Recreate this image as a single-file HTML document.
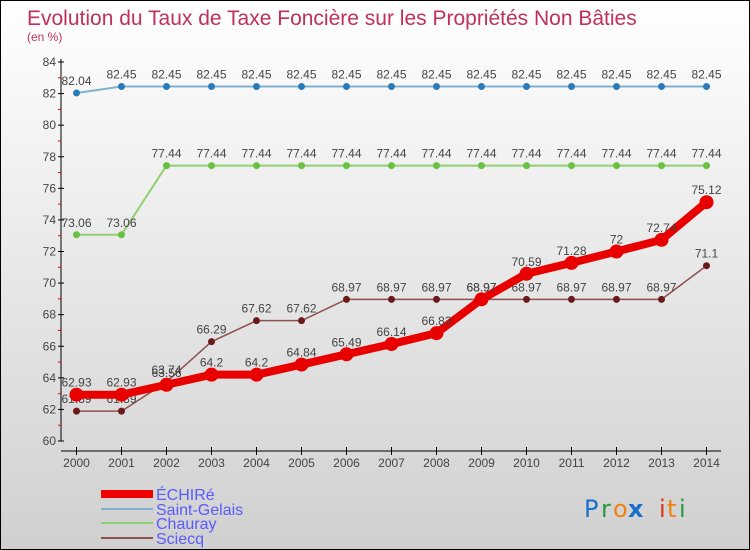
<!DOCTYPE html>
<html><head><meta charset="utf-8">
<style>
body{margin:0;}
#wrap{position:relative;width:750px;height:550px;overflow:hidden;background:linear-gradient(#ffffff,#d0d0d0);font-family:"Liberation Sans",sans-serif;box-sizing:border-box;border:1px solid #000;}
</style></head><body>
<div id="wrap">
<svg id="chart" width="750" height="550" style="position:absolute;left:0;top:0">
<text x="26" y="24" font-size="21" fill="#c0305a">Evolution du Taux de Taxe Foncière sur les Propriétés Non Bâties</text>
<text x="26" y="40" font-size="12" fill="#c0305a">(en %)</text>
<g id="axes"></g>
<g id="series"></g>
<g id="legend" font-size="16" fill="#5a5aff">
<rect x="100" y="489" width="52" height="8" fill="#e00"/>
<text x="155" y="499">ÉCHIRé</text>
<rect x="100" y="507" width="52" height="2" fill="#80b0d0"/>
<text x="155" y="514">Saint-Gelais</text>
<rect x="100" y="521" width="52" height="2" fill="#90d070"/>
<text x="155" y="528">Chauray</text>
<rect x="100" y="536" width="52" height="2" fill="#905050"/>
<text x="155" y="543">Sciecq</text>
</g>
<g font-size="24" font-family="'DejaVu Sans',sans-serif">
<text x="583" y="516" fill="#1a70c8">P</text><text x="600" y="516" fill="#2a9a3a">r</text><text x="612" y="516" fill="#f08010">o</text><text x="627" y="516" fill="#1a70c8" font-weight="bold">x</text><text x="658" y="516" fill="#e03010">i</text><text x="666" y="516" fill="#f08010">t</text><text x="678" y="516" fill="#2a9a3a">i</text>
</g>
</svg>
</div>
<script>
const years=[2000,2001,2002,2003,2004,2005,2006,2007,2008,2009,2010,2011,2012,2013,2014];
const yTicks=[60,62,64,66,68,70,72,74,76,78,80,82,84];
const echire=[62.93,62.93,63.56,64.2,64.2,64.84,65.49,66.14,66.83,68.97,70.59,71.28,72,72.74,75.12];
const saintGelais=[82.04,82.45,82.45,82.45,82.45,82.45,82.45,82.45,82.45,82.45,82.45,82.45,82.45,82.45,82.45];
const chauray=[73.06,73.06,77.44,77.44,77.44,77.44,77.44,77.44,77.44,77.44,77.44,77.44,77.44,77.44,77.44];
const sciecq=[61.89,61.89,63.74,66.29,67.62,67.62,68.97,68.97,68.97,68.97,68.97,68.97,68.97,68.97,71.1];
const NS="http://www.w3.org/2000/svg";
const X0=75.5,DX=45,Y0=440,YMIN=60,YMAX=84,YPX=379;
function xS(i){return X0+i*DX;}
function yS(v){return Y0-(v-YMIN)/(YMAX-YMIN)*YPX;}
function mk(tag,attrs,parent){const e=document.createElementNS(NS,tag);for(const k in attrs)e.setAttribute(k,attrs[k]);parent.appendChild(e);return e;}
const ax=document.getElementById('axes');
let l=mk('line',{x1:60,y1:58,x2:60,y2:Y0,stroke:'#000'},ax);


l=mk('line',{x1:60,y1:450,x2:720,y2:450,stroke:'#000'},ax);


yTicks.forEach((v,i)=>{
  const y=yS(v);
  mk('line',{x1:57,y1:y,x2:63,y2:y,stroke:'#000'},ax);
  if(i<yTicks.length-1){mk('line',{x1:57,y1:y-YPX/24,x2:60,y2:y-YPX/24,stroke:'#e00'},ax);}
  const t=mk('text',{x:55,y:y+4,'font-size':12,fill:'#444','text-anchor':'end'},ax);
  t.textContent=v;
  
  
});
years.forEach((yr,i)=>{
  const x=xS(i);
  mk('line',{x1:x,y1:446,x2:x,y2:454,stroke:'#000'},ax);
  const t=mk('text',{x:x,y:466,'font-size':12,fill:'#444','text-anchor':'middle'},ax);
  t.textContent=yr;
  
  
});
const sg=document.getElementById('series');
function series(vals,name,color,dot,w,r){
  const g=mk('g',{},sg);
  
  
  const p=mk('polyline',{points:vals.map((v,i)=>xS(i)+','+yS(v)).join(' '),fill:'none',stroke:color,'stroke-width':w,'stroke-linejoin':'round'},g);
  
  
  vals.forEach((v,i)=>{
    const c=mk('circle',{cx:xS(i),cy:yS(v),r:r,fill:dot},g);
    
    
    const t=mk('text',{x:xS(i),y:yS(v)-8,'font-size':12,fill:'#444','text-anchor':'middle'},g);
    t.textContent=v;
    
    
  });
}
series(saintGelais,'saint-gelais','#80b0d0','#2a7ab8',2,3.5);
series(chauray,'chauray','#90d070','#6ac040',2,3.5);
series(sciecq,'sciecq','#905050','#6a1a1a',1.5,3.5);
series(echire,'echire','#e80000','#e80000',8,7);
</script>
</body></html>
